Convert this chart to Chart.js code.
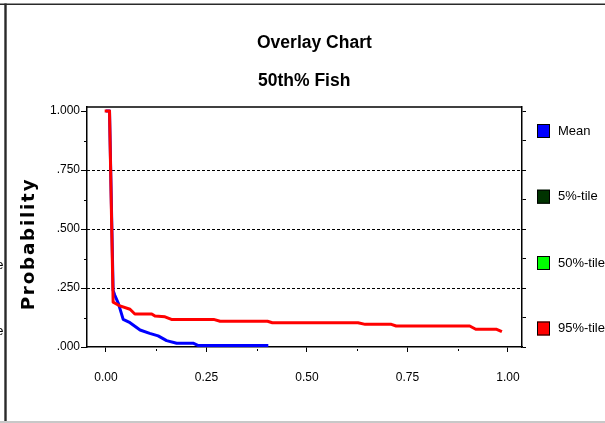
<!DOCTYPE html>
<html>
<head>
<meta charset="utf-8">
<script src="https://cdn.jsdelivr.net/npm/chart.js@4.4.1/dist/chart.umd.min.js"></script>
<style>
  html, body { margin: 0; padding: 0; background: #fff; }
  #wrap { width: 605px; height: 423px; position: relative; }
</style>
</head>
<body>
<div id="wrap"><canvas id="c" width="605" height="423"></canvas></div>
<script>
// ---- data ----
const chartTitle = 'Overlay Chart';
const chartSubtitle = '50th% Fish';
const yAxisTitle = 'Probability';
const seriesNames = ['Mean', '5%-tile', '50%-tile', '95%-tile'];
const seriesColors = ['#0000ff', '#003300', '#00ff00', '#ff0000'];

const meanX = [0.0, 0.009, 0.018, 0.022, 0.031, 0.043, 0.060, 0.085, 0.109, 0.130, 0.151, 0.176, 0.217, 0.230, 0.404];
const meanY = [1.0, 1.0, 0.240, 0.220, 0.185, 0.117, 0.103, 0.072, 0.058, 0.047, 0.027, 0.016, 0.016, 0.006, 0.006];

const p5X = [];
const p5Y = [];
const p50X = [];
const p50Y = [];

const p95X = [-0.003, 0.009, 0.018, 0.035, 0.060, 0.072, 0.114, 0.122, 0.147, 0.163, 0.268, 0.284, 0.402, 0.414, 0.627, 0.645, 0.710, 0.722, 0.905, 0.920, 0.972, 0.985];
const p95Y = [1.0, 1.0, 0.190, 0.174, 0.160, 0.140, 0.140, 0.131, 0.128, 0.117, 0.117, 0.109, 0.109, 0.103, 0.103, 0.096, 0.096, 0.089, 0.089, 0.075, 0.075, 0.065];

const xTickValues = [0, 0.125, 0.25, 0.375, 0.5, 0.625, 0.75, 0.875, 1];
const xTickLabels = ['0.00', '0.25', '0.50', '0.75', '1.00'];
const yTickValues = [0, 0.125, 0.25, 0.375, 0.5, 0.625, 0.75, 0.875, 1];
const yTickLabels = ['.000', '.250', '.500', '.750', '1.000'];
const gridValues = [0.25, 0.5, 0.75];

// ---- build ----
const FONT = 'Arial, "Liberation Sans", sans-serif';
function pts(xs, ys) { return xs.map((x, i) => ({ x: x, y: ys[i] })); }
const seriesData = [pts(meanX, meanY), pts(p5X, p5Y), pts(p50X, p50Y), pts(p95X, p95Y)];
const drawOrder = [3, 2, 1, 0];

const datasets = seriesNames.map((n, i) => ({
  label: n,
  data: seriesData[i],
  borderColor: seriesColors[i],
  backgroundColor: seriesColors[i],
  borderWidth: 3,
  pointRadius: 0,
  tension: 0,
  fill: false,
  borderJoinStyle: 'round',
  order: drawOrder[i]
}));

const decor = {
  id: 'decor',
  beforeDatasetsDraw(chart) {
    const ctx = chart.ctx, ca = chart.chartArea, y = chart.scales.y;
    ctx.save();
    ctx.strokeStyle = '#000';
    ctx.lineWidth = 1;
    ctx.setLineDash([3, 2]);
    gridValues.forEach(v => {
      const py = Math.round(y.getPixelForValue(v)) + 0.5;
      ctx.beginPath();
      ctx.moveTo(ca.left, py);
      ctx.lineTo(ca.right + 4, py);
      ctx.stroke();
    });
    ctx.restore();
  },
  afterDraw(chart) {
    const ctx = chart.ctx, ca = chart.chartArea, x = chart.scales.x, y = chart.scales.y;
    ctx.save();
    // outer frame
    ctx.fillStyle = '#2a2a2a';
    ctx.fillRect(0, 3.5, 605, 1.5);
    ctx.fillRect(4.3, 3.5, 2.4, 418);
    ctx.fillStyle = '#c8c8c8';
    ctx.fillRect(0, 421, 605, 2);

    // plot frame (top line)
    ctx.strokeStyle = '#000';
    ctx.lineWidth = 1.5;
    ctx.beginPath();
    ctx.moveTo(ca.left, ca.top);
    ctx.lineTo(ca.right, ca.top);
    ctx.stroke();

    // minor ticks
    ctx.lineWidth = 1;
    yTickValues.forEach((v, i) => {
      if (i % 2 === 1) {
        const py = Math.round(y.getPixelForValue(v)) + 0.5;
        ctx.beginPath(); ctx.moveTo(ca.left - 3, py); ctx.lineTo(ca.left, py); ctx.stroke();
      }
    });
    xTickValues.forEach((v, i) => {
      if (i % 2 === 1) {
        const px = Math.round(x.getPixelForValue(v)) + 0.5;
        ctx.beginPath(); ctx.moveTo(px, ca.bottom + 2); ctx.lineTo(px, ca.bottom + 4); ctx.stroke();
      }
    });

    // titles
    ctx.fillStyle = '#000';
    ctx.font = 'bold 17.5px ' + FONT;
    ctx.textAlign = 'left';
    ctx.textBaseline = 'alphabetic';
    ctx.fillText(chartTitle, 257, 47.5);
    ctx.fillText(chartSubtitle, 258, 86);

    // y axis title
    ctx.save();
    ctx.translate(33.5, 245);
    ctx.rotate(-Math.PI / 2);
    ctx.font = 'bold 18.3px "DejaVu Sans", ' + FONT;
    ctx.letterSpacing = '1.8px';
    ctx.textAlign = 'center';
    ctx.fillText(yAxisTitle, 1, 0);
    ctx.restore();

    // legend
    const rows = [131, 196.7, 263, 328.5];
    ctx.font = '13px ' + FONT;
    ctx.textBaseline = 'middle';
    ctx.textAlign = 'left';
    seriesNames.forEach((n, i) => {
      const cy = rows[i];
      ctx.fillStyle = seriesColors[i];
      ctx.fillRect(537, cy - 7, 13, 14);
      ctx.strokeStyle = '#000';
      ctx.lineWidth = 1;
      ctx.strokeRect(537.5, cy - 6.5, 12, 13);
      ctx.fillStyle = '#000';
      ctx.fillText(n, 558, cy);
    });

    // clipped text from the neighbouring pane at the left edge
    ctx.textAlign = 'right';
    ctx.fillText(seriesNames[2], 3.5, 265.5);
    ctx.fillText(seriesNames[3], 3.5, 331);
    ctx.restore();
  }
};

new Chart(document.getElementById('c'), {
  type: 'line',
  data: { datasets: datasets },
  plugins: [decor],
  options: {
    responsive: false,
    animation: false,
    devicePixelRatio: 1,
    layout: { padding: { left: 0, right: 0, top: 107, bottom: 0 } },
    plugins: { legend: { display: false }, tooltip: { enabled: false }, title: { display: false } },
    elements: { line: { borderCapStyle: 'butt' } },
    scales: {
      x: {
        type: 'linear',
        position: 'bottom',
        min: -0.047,
        max: 1.035,
        afterBuildTicks(s) { s.ticks = xTickValues.map(v => ({ value: v })); },
        afterFit(s) { s.height = 76; },
        ticks: {
          autoSkip: false,
          maxRotation: 0,
          padding: 18,
          color: '#000',
          font: { family: FONT, size: 12 },
          callback: (v, i) => (i % 2 === 0 ? xTickLabels[i / 2] : '')
        },
        grid: {
          drawOnChartArea: false,
          drawTicks: true,
          tickLength: 5,
          tickColor: (c) => (c.index % 2 === 0 ? '#000' : 'rgba(0,0,0,0)')
        },
        border: { display: true, color: '#000', width: 1.5 }
      },
      y: {
        type: 'linear',
        position: 'left',
        min: 0,
        max: 1.017,
        afterBuildTicks(s) { s.ticks = yTickValues.map(v => ({ value: v })); },
        afterFit(s) { s.width = 87; },
        ticks: {
          autoSkip: false,
          padding: 1,
          color: '#000',
          font: { family: FONT, size: 12 },
          callback: (v, i) => (i % 2 === 0 ? yTickLabels[i / 2] : '')
        },
        grid: {
          drawOnChartArea: false,
          drawTicks: true,
          tickLength: 6,
          tickColor: (c) => (c.index % 2 === 0 ? '#000' : 'rgba(0,0,0,0)')
        },
        border: { display: true, color: '#000', width: 1.5 }
      },
      y2: {
        type: 'linear',
        position: 'right',
        min: 0,
        max: 1.017,
        afterBuildTicks(s) { s.ticks = yTickValues.map(v => ({ value: v })); },
        afterFit(s) { s.width = 83; },
        ticks: { autoSkip: false, display: true, callback: () => '' },
        grid: { drawOnChartArea: false, drawTicks: true, tickLength: 4, tickColor: '#000' },
        border: { display: true, color: '#000', width: 1.5 }
      }
    }
  }
});
</script>
</body>
</html>
